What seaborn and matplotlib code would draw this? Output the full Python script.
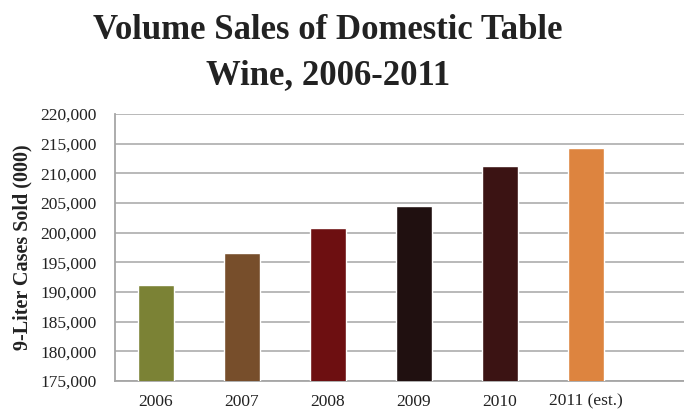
import matplotlib
matplotlib.use("Agg")
import matplotlib.pyplot as plt
import seaborn as sns
import pandas as pd

years = ["2006", "2007", "2008", "2009", "2010", "2011 (est.)"]
cases_sold = [191200, 196600, 200800, 204500, 211300, 214250]
bar_colors = ["#7b8235", "#774e2b", "#6d0f11", "#201010", "#3b1313", "#dd843f"]
y_ticks = list(range(175000, 220001, 5000))

sns.set_theme(style="white")
plt.rcParams["font.family"] = ["Liberation Serif", "DejaVu Serif"]

df = pd.DataFrame({"year": years, "cases": cases_sold})

fig = plt.figure(figsize=(6.84, 4.13), dpi=100)
ax = fig.add_axes([115 / 684, 1 - 381 / 413, 570 / 684, (381 - 114) / 413])

sns.barplot(data=df, x="year", y="cases", hue="year", palette=bar_colors,
            legend=False, width=0.41, saturation=1, ax=ax, zorder=3)

ax.set_ylim(175000, 220000)
ax.set_xlim(-0.477, 6.151)
ax.set_yticks(y_ticks)
ax.set_yticklabels([f"{v:,}" for v in y_ticks], fontsize=12.5, color="#222222")
ax.tick_params(axis="x", labelsize=12.5, colors="#222222", length=0, pad=9)
ax.tick_params(axis="y", length=0, pad=13)
ax.yaxis.grid(True, color="#b3b3b3", linewidth=1.3, zorder=0)
ax.set_axisbelow(True)
for side in ["top", "right"]:
    ax.spines[side].set_visible(False)
for side in ["left", "bottom"]:
    ax.spines[side].set_color("#a6a6a6")
    ax.spines[side].set_linewidth(1.3)

ax.set_xlabel("")
ax.set_ylabel("9-Liter Cases Sold (000)", fontsize=14.5, fontweight="bold",
              color="#222222", labelpad=6)

fig.text(328 / 684, 1 - 53 / 413, "Volume Sales of Domestic Table\nWine, 2006-2011",
         ha="center", va="center", fontsize=25, fontweight="bold",
         color="#222222", linespacing=1.45)

fig.savefig("out.png", dpi=100)
